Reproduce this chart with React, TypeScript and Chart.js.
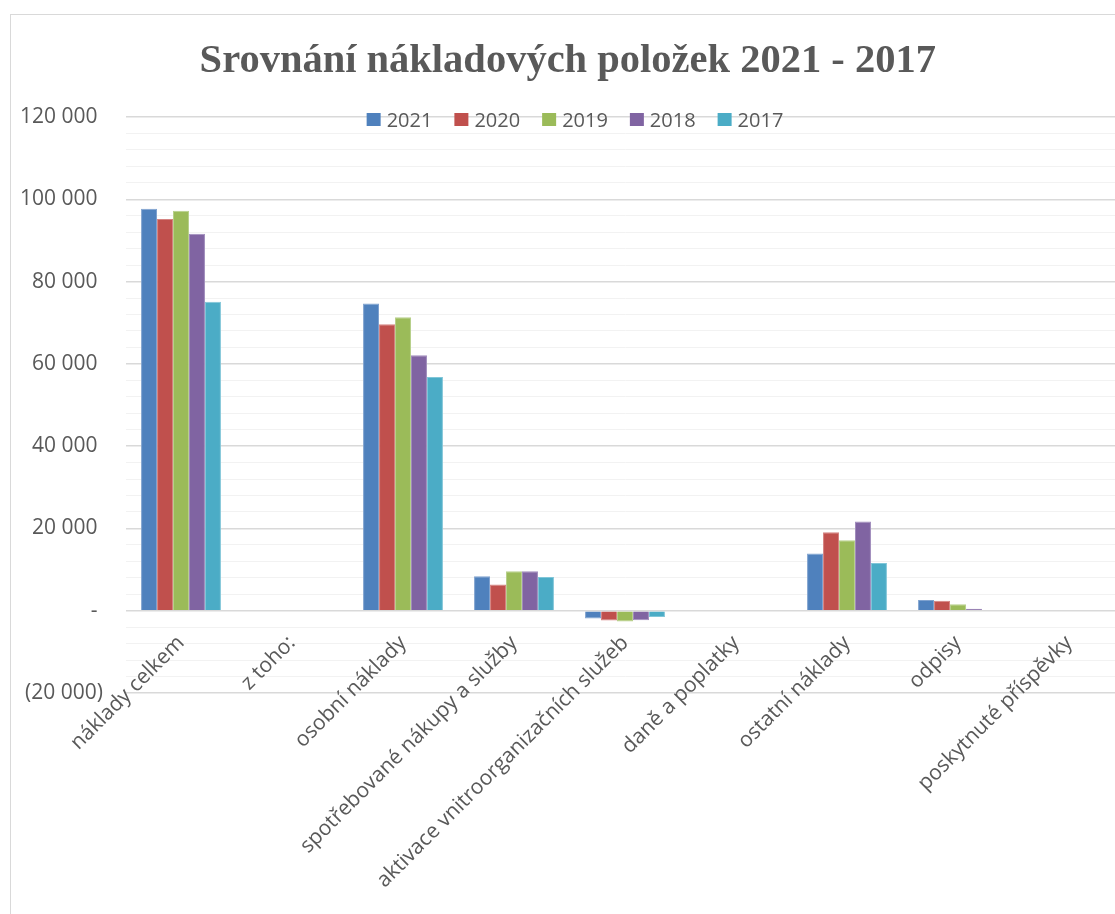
import React, { useEffect, useRef } from "react";
import { Chart, registerables } from "chart.js";

Chart.register(...registerables);

const categories = [
  "náklady celkem",
  "z toho:",
  "osobní náklady",
  "spotřebované nákupy a služby",
  "aktivace vnitroorganizačních služeb",
  "daně a poplatky",
  "ostatní náklady",
  "odpisy",
  "poskytnuté příspěvky",
];

const years = ["2021", "2020", "2019", "2018", "2017"];
const colors = ["#4F81BD", "#C0504D", "#9BBB59", "#8064A2", "#4BACC6"];
const borderColors = ["#7fa2cf", "#d58482", "#b7d08a", "#a18dbd", "#80c6d8"];

const v2021 = [97700, null, 74700, 8400, -1900, 0, 13900, 2600, 0];
const v2020 = [95200, null, 69600, 6400, -2400, 0, 19100, 2400, 0];
const v2019 = [97200, null, 71300, 9600, -2600, 0, 17100, 1600, 0];
const v2018 = [91600, null, 62100, 9600, -2300, 0, 21700, 500, 0];
const v2017 = [75100, null, 56800, 8200, -1500, 0, 11600, 0, 0];
const seriesValues = [v2021, v2020, v2019, v2018, v2017];

const yTickMin = -20000;
const yTickMax = 120000;
const yMinorStep = 4000;
const yMajorStep = 20000;

const FONT = '"Open Sans", "Liberation Sans", sans-serif';
const TEXT = "#595959";

function fmtNumber(v: number): string {
  if (v === 0) return "- ";
  const abs = Math.abs(v);
  const s = String(abs).replace(/\B(?=(\d{3})+(?!\d))/g, " ");
  return v < 0 ? "(" + s + ")" : s + " ";
}

const inlineLegend = {
  id: "inlineLegend",
  afterDraw(chart: any) {
    const ctx = chart.ctx as CanvasRenderingContext2D;
    ctx.save();
    ctx.font = "20px " + FONT;
    ctx.textBaseline = "middle";
    ctx.textAlign = "left";
    const box = 14;
    const gap = 6;
    const spacing = 22;
    const items = chart.data.datasets.map((ds: any) => ({
      label: ds.label as string,
      color: ds.backgroundColor as string,
      w: ctx.measureText(ds.label).width,
    }));
    let total = 0;
    items.forEach((it: any, i: number) => {
      total += box + gap + it.w + (i > 0 ? spacing : 0);
    });
    const cx = 564;
    const cy = 105;
    let x = cx - total / 2;
    items.forEach((it: any) => {
      ctx.fillStyle = it.color;
      ctx.fillRect(x, cy - 7, box, 13);
      ctx.fillStyle = TEXT;
      ctx.fillText(it.label, x + box + gap, cy + 1);
      x += box + gap + it.w + spacing;
    });
    ctx.restore();
  },
};

export default function App() {
  const ref = useRef<HTMLCanvasElement | null>(null);

  useEffect(() => {
    if (!ref.current) return;
    const chart = new Chart(ref.current, {
      type: "bar",
      data: {
        labels: categories,
        datasets: years.map((y, i) => ({
          label: y,
          data: seriesValues[i],
          backgroundColor: colors[i],
          borderColor: borderColors[i],
          borderWidth: 1,
          categoryPercentage: 0.72,
          barPercentage: 1.0,
        })),
      },
      options: {
        responsive: false,
        animation: false,
        layout: { padding: { left: 0, right: 7.5, top: 22, bottom: 222 } },
        plugins: {
          legend: { display: false },
          tooltip: { enabled: false },
          title: {
            display: true,
            text: "Srovnání nákladových položek 2021 - 2017",
            color: TEXT,
            font: { family: '"Liberation Serif", "DejaVu Serif", serif', size: 40.5, weight: "bold" },
            padding: { top: 0, bottom: 31.4 },
          },
        },
        scales: {
          x: {
            position: { y: 0 } as any,
            grid: { display: false },
            border: { display: false },
            ticks: {
              color: TEXT,
              font: { family: FONT, size: 21 },
              minRotation: 45,
              maxRotation: 45,
              autoSkip: false,
              padding: 12,
            },
          },
          y: {
            min: yTickMin,
            max: yTickMax,
            grid: {
              drawTicks: false,
              color: (c: any) =>
                c.tick && c.tick.value % yMajorStep === 0 ? "#d9d9d9" : "#f2f2f2",
              lineWidth: (c: any) =>
                c.tick && c.tick.value % yMajorStep === 0 ? 1.5 : 1,
            },
            border: { display: false },
            ticks: {
              stepSize: yMinorStep,
              autoSkip: false,
              color: TEXT,
              font: { family: FONT, size: 21 },
              padding: 22.5,
              callback: (v: any) =>
                Number(v) % yMajorStep === 0 ? fmtNumber(Number(v)) : "",
            },
            afterFit: (s: any) => {
              s.width = 114.5;
            },
          },
        },
      },
      plugins: [inlineLegend],
    });
    return () => chart.destroy();
  }, []);

  return (
    <div
      style={{
        position: "fixed",
        left: 0,
        top: 0,
        width: 1115,
        height: 914,
        overflow: "hidden",
        background: "#ffffff",
      }}
    >
      <div
        style={{
          position: "absolute",
          left: 10,
          top: 14,
          width: 1121,
          height: 900,
          border: "1px solid #d9d9d9",
          background: "#ffffff",
        }}
      >
        <canvas ref={ref} width={1121} height={900} style={{ display: "block", width: 1121, height: 900 }} />
      </div>
    </div>
  );
}
